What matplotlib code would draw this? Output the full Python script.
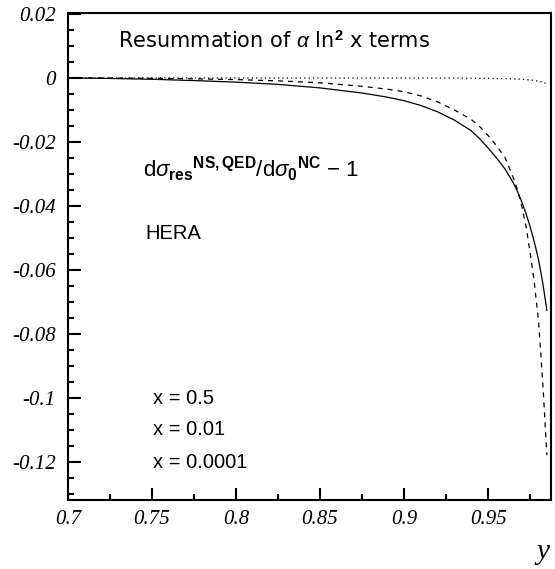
import matplotlib
matplotlib.use('Agg')
import matplotlib.pyplot as plt
from matplotlib.ticker import FixedLocator, MultipleLocator

plt.rcParams['mathtext.fontset'] = 'custom'
plt.rcParams['mathtext.rm'] = 'Liberation Sans'
plt.rcParams['mathtext.it'] = 'Liberation Sans:italic'
plt.rcParams['mathtext.bf'] = 'Liberation Sans:bold'

y_vals = [0.70, 0.72, 0.75, 0.78, 0.80, 0.825, 0.85, 0.875, 0.89, 0.90,
          0.91, 0.92, 0.93, 0.94, 0.945, 0.95, 0.955, 0.96, 0.965, 0.9675,
          0.97, 0.9725, 0.975, 0.9775, 0.98, 0.9825, 0.985]

# x = 0.5 (solid)
ratio_x05 = [0.0, -0.0001, -0.0004, -0.0009, -0.0013, -0.0020, -0.0031, -0.0047, -0.0060, -0.0071,
             -0.0086, -0.0106, -0.0132, -0.0165, -0.0190, -0.0219, -0.0250, -0.0284, -0.0328, -0.0355,
             -0.0387, -0.0423, -0.0465, -0.0513, -0.0568, -0.0640, -0.0727]
# x = 0.01 (dashed)
ratio_x001 = [0.0, 0.0, -0.0001, -0.0003, -0.0005, -0.0009, -0.0015, -0.0026, -0.0035, -0.0043,
              -0.0056, -0.0075, -0.0100, -0.0130, -0.0152, -0.0180, -0.0212, -0.0248, -0.0312, -0.0350,
              -0.0400, -0.0462, -0.0545, -0.0640, -0.0760, -0.0950, -0.1180]
# x = 0.0001 (dotted)
ratio_x00001 = [0.0, 0.0, 0.0, 0.0, 0.0, 0.0, 0.0, 0.0, 0.0, 0.0,
                0.0, 0.0, 0.0, -0.0001, -0.0001, -0.0001, -0.0002, -0.0002, -0.0003, -0.0003,
                -0.0004, -0.0005, -0.0006, -0.0008, -0.0010, -0.0013, -0.0018]

legend_labels = ['x = 0.5', 'x = 0.01', 'x = 0.0001']

xticks = [0.7, 0.75, 0.8, 0.85, 0.9, 0.95]
xtick_labels = ['0.7', '0.75', '0.8', '0.85', '0.9', '0.95']
yticks = [0.02, 0.0, -0.02, -0.04, -0.06, -0.08, -0.1, -0.12]
ytick_labels = ['0.02', '0', '-0.02', '-0.04', '-0.06', '-0.08', '-0.1', '-0.12']

fig = plt.figure(figsize=(5.55, 5.69), dpi=100)
ax = fig.add_axes([0.1225, 0.1213, 0.8705, 0.8557])

ax.plot(y_vals, ratio_x05, color='black', lw=0.9, ls='-')
ax.plot(y_vals, ratio_x001, color='black', lw=0.9, ls=(0, (4, 4)))
ax.plot(y_vals, ratio_x00001, color='black', lw=0.9, ls=(0, (1, 2.5)))

ax.set_xlim(0.7, 0.9875)
ax.set_ylim(-0.132, 0.0203)

ax.xaxis.set_major_locator(FixedLocator(xticks))
ax.set_xticklabels(xtick_labels)
ax.xaxis.set_minor_locator(MultipleLocator(0.025))
ax.yaxis.set_major_locator(FixedLocator(yticks))
ax.set_yticklabels(ytick_labels)
ax.yaxis.set_minor_locator(MultipleLocator(0.005))

ax.tick_params(which='both', direction='in', top=False, right=False, width=1.5)
ax.tick_params(which='major', length=9)
ax.tick_params(which='minor', length=4.5)
ax.tick_params(axis='x', which='major', pad=7)
ax.tick_params(axis='y', which='major', pad=9)

for lab in ax.get_xticklabels() + ax.get_yticklabels():
    lab.set_fontfamily('Liberation Serif')
    lab.set_fontstyle('italic')
    lab.set_fontsize(15)

for side in ['left', 'bottom', 'top', 'right']:
    ax.spines[side].set_linewidth(1.5)

sans = 'Liberation Sans'
ax.text(0.103, 0.944, r'Resummation of $\alpha$ ln$^{\mathbf{2}}$ x terms',
        transform=ax.transAxes, fontsize=15, family='DejaVu Sans', va='center')
ax.text(0.155, 0.68,
        r'd$\sigma_{\mathbf{res}}{}^{\mathbf{NS,QED}}$/d$\sigma_{\mathbf{0}}{}^{\mathbf{NC}}$ $-$ 1',
        transform=ax.transAxes, fontsize=16, family=sans, va='center')
ax.text(0.16, 0.548, 'HERA', transform=ax.transAxes, fontsize=14.5, family=sans,
        va='center')

legend_y = [0.209, 0.144, 0.078]
for lab, yy in zip(legend_labels, legend_y):
    ax.text(0.176, yy, lab, transform=ax.transAxes, fontsize=14.5, family=sans,
            va='center')

fig.text(0.978, 0.018, 'y', fontsize=21, family='Liberation Serif',
         style='italic', ha='center')

fig.savefig('out.png', dpi=100)
